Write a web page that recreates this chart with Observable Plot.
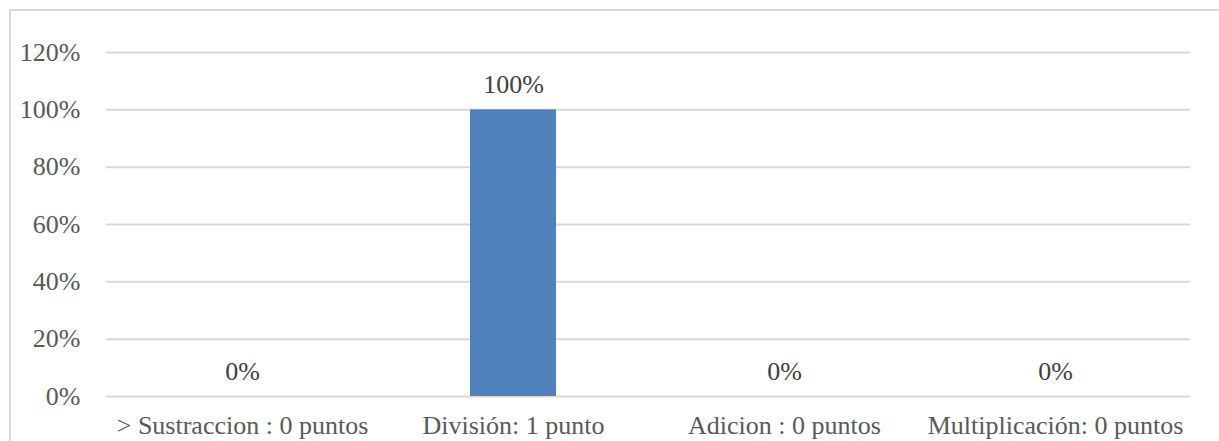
<!DOCTYPE html>
<html>
<head>
<meta charset="utf-8">
<script src="https://cdn.jsdelivr.net/npm/d3@7"></script>
<script src="https://cdn.jsdelivr.net/npm/@observablehq/plot@0.6"></script>
<style>
  html, body { margin: 0; padding: 0; background: #fff; overflow: hidden; }
  #wrap { position: relative; width: 1219px; height: 441px; }
  #border { position: absolute; left: 9px; top: 9px; width: 1220px; height: 460px; border: 2px solid #d9d9d9; box-sizing: border-box; }
  #chart { position: absolute; left: 0; top: 0; }
</style>
</head>
<body>
<div id="wrap"><div id="border"></div><div id="chart"></div></div>
<script>
const categories = ["> Sustraccion : 0 puntos", "División: 1 punto", "Adicion : 0 puntos", "Multiplicación: 0 puntos"];
const values = [0, 1, 0, 0];
const yTicks = [0, 0.2, 0.4, 0.6, 0.8, 1.0, 1.2];

const data = categories.map((c, i) => ({category: c, value: values[i]}));
const pct = d3.format(".0%");
const FS = 26;

const chart = Plot.plot({
  width: 1219,
  height: 441,
  marginLeft: 106,
  marginRight: 29,
  marginTop: 52,
  marginBottom: 45,
  style: {fontFamily: "'Liberation Serif', 'Times New Roman', serif", fontSize: FS + "px", color: "#595959", background: "transparent"},
  x: {domain: categories, paddingInner: 0.683, paddingOuter: 0.3415, label: null},
  y: {domain: [0, 1.2], label: null},
  marks: [
    Plot.gridY(yTicks, {stroke: "#d9d9d9", strokeOpacity: 1, strokeWidth: 2}),
    Plot.axisY(yTicks, {tickSize: 0, tickPadding: 26, tickFormat: pct, fontSize: FS, fill: "#595959", label: null}),
    Plot.axisX({tickSize: 0, tickPadding: 19, fontSize: FS, fill: "#595959", label: null}),
    Plot.barY(data, {x: "category", y: "value", fill: "#4F81BD"}),
    Plot.text(data, {x: "category", y: "value", text: d => pct(d.value), dy: -25, fontSize: FS, fill: "#404040", textAnchor: "middle"})
  ]
});
document.getElementById("chart").appendChild(chart);
</script>
</body>
</html>
